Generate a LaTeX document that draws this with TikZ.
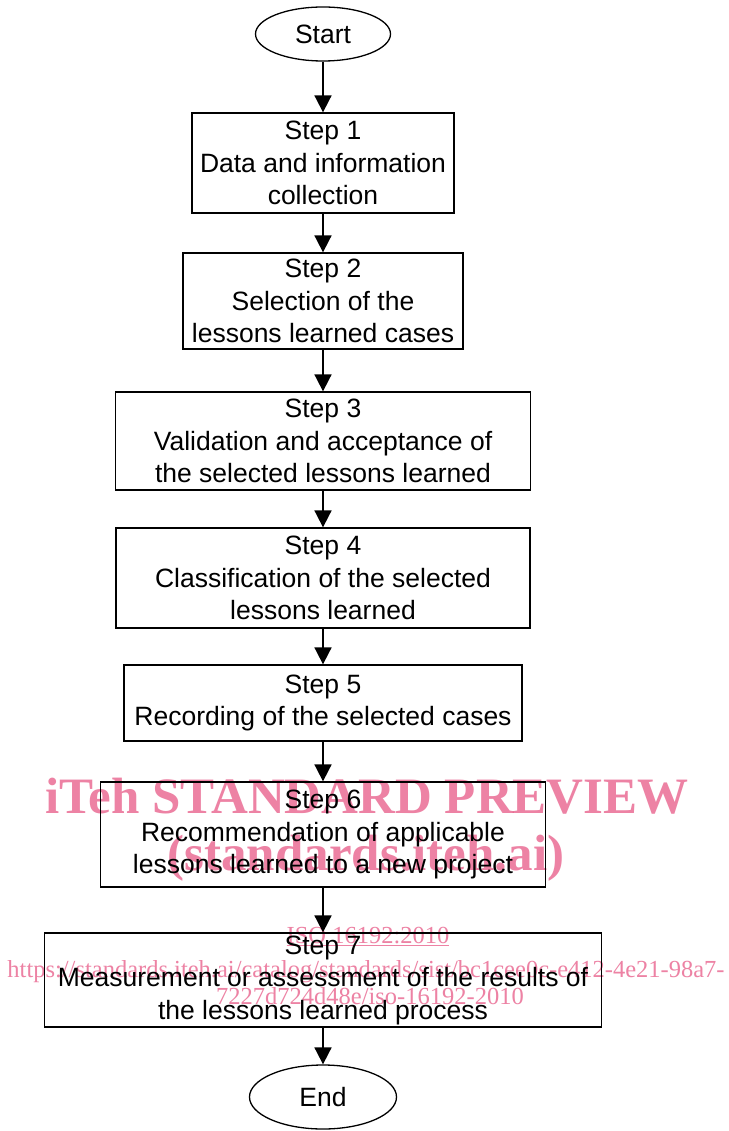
\documentclass[tikz,border=0pt]{standalone}
\usepackage{fontspec}
\setmainfont{Liberation Sans}
\newfontfamily\wmfont{Liberation Serif}
\usetikzlibrary{shapes.geometric,arrows.meta}
\definecolor{wmpink}{RGB}{237,130,164}
\begin{document}
\begin{tikzpicture}[x=1pt,y=-1pt,
  stepbox/.style={draw=black,line width=1.3pt,inner sep=0pt,align=center,
    font=\fontsize{26.5}{32.5}\selectfont},
  term/.style={draw=black,line width=1.3pt,ellipse,inner sep=0pt,
    font=\fontsize{26.5}{32.5}\selectfont},
  arr/.style={line width=1.8pt,-{Triangle[width=17pt,length=17pt]}},
  wmbig/.style={text=wmpink,inner sep=0pt,anchor=base,
    font=\wmfont\bfseries\fontsize{51}{57}\selectfont},
  wmsmall/.style={text=wmpink,inner sep=0pt,anchor=base,
    font=\wmfont\fontsize{24.5}{30}\selectfont}]
\useasboundingbox (0,0) rectangle (728,1131);
\fill[white] (0,0) rectangle (728,1131);

\node[term,minimum width=135pt,minimum height=54pt] (start) at (323,34) {Start};
\node[stepbox,minimum width=262pt,minimum height=100pt] (b1) at (323,163)
  {Step 1\\Data and information\\collection};
\node[stepbox,minimum width=280pt,minimum height=96pt] (b2) at (323,301)
  {Step 2\\Selection of the\\lessons learned cases};
\node[stepbox,minimum width=415pt,minimum height=98pt] (b3) at (323,441)
  {Step 3\\Validation and acceptance of\\the selected lessons learned};
\node[stepbox,minimum width=414pt,minimum height=100pt] (b4) at (323,578)
  {Step 4\\Classification of the selected\\lessons learned};
\node[stepbox,minimum width=398pt,minimum height=76pt] (b5) at (323,703)
  {Step 5\\Recording of the selected cases};
\node[stepbox,minimum width=445pt,minimum height=105pt] (b6) at (323,834.5)
  {Step 6\\Recommendation of applicable\\lessons learned to a new project};
\node[stepbox,minimum width=557pt,minimum height=94pt] (b7) at (323,980)
  {Step 7\\Measurement or assessment of the results of\\the lessons learned process};
\node[term,minimum width=147pt,minimum height=64pt] (end) at (323,1097) {End};

\draw[arr] (start) -- (b1);
\draw[arr] (b1) -- (b2);
\draw[arr] (b2) -- (b3);
\draw[arr] (b3) -- (b4);
\draw[arr] (b4) -- (b5);
\draw[arr] (b5) -- (b6);
\draw[arr] (b6) -- (b7);
\draw[arr] (b7) -- (end);

\begin{scope}[blend mode=multiply]
\node[wmbig] (wm1) at (367,813) {iTeh STANDARD PREVIEW};
\node[wmbig] (wm2) at (366,870) {(standards.iteh.ai)};
\node[wmsmall] (wm3) at (368,943) {\underline{ISO 16192:2010}};
\node[wmsmall] (wm4) at (366,977) {https://standards.iteh.ai/catalog/standards/sist/bc1cee0c-e412-4e21-98a7-};
\node[wmsmall] (wm5) at (370,1004) {7227d724d48e/iso-16192-2010};
\end{scope}
\end{tikzpicture}
\end{document}
